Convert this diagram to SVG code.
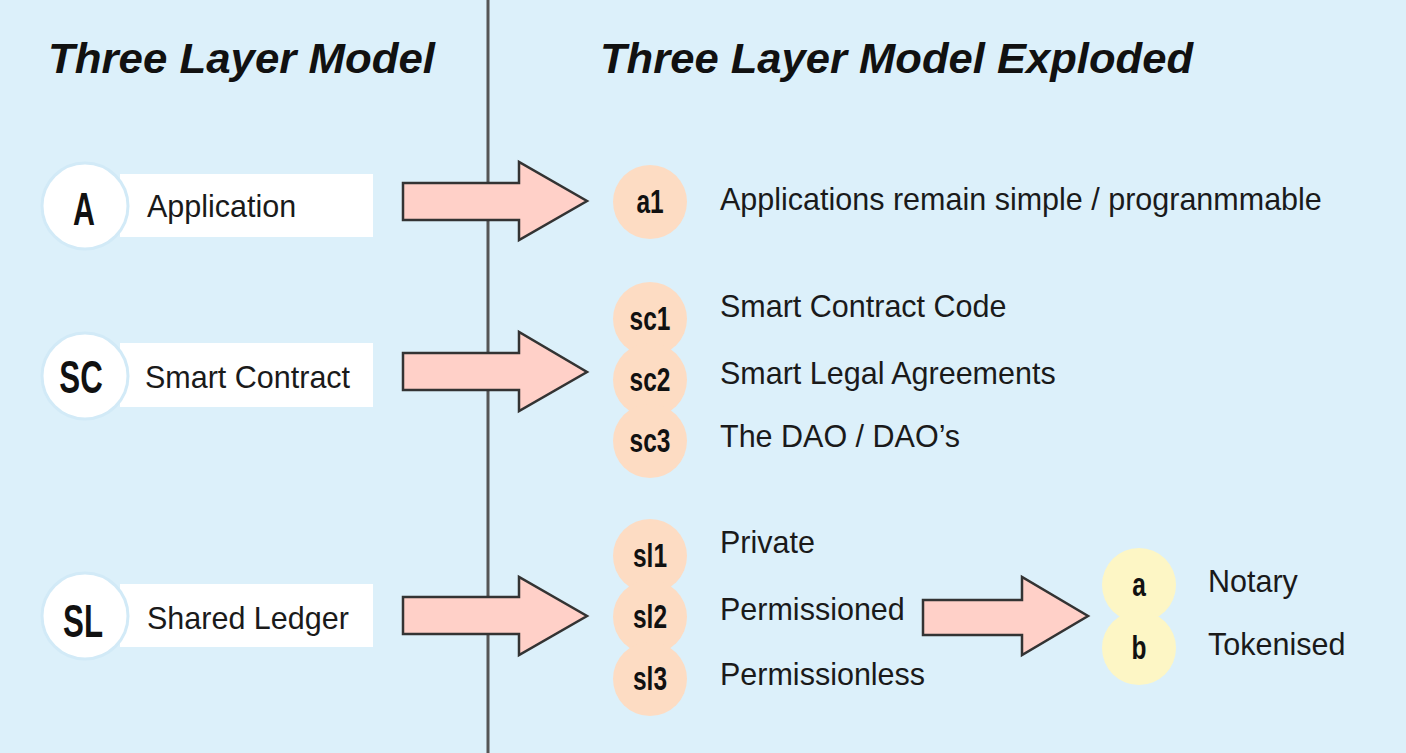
<svg xmlns="http://www.w3.org/2000/svg" width="1406" height="753" viewBox="0 0 1406 753">
<style>
.title{font-family:"Liberation Sans",Arial,sans-serif;font-weight:bold;font-style:italic;font-size:43px;fill:#111}
.txt{font-family:"Liberation Sans",Arial,sans-serif;font-size:30.5px;fill:#1a1a1a}
.big{font-family:"Liberation Sans",Arial,sans-serif;font-weight:bold;font-size:46px;fill:#111;text-anchor:middle}
.lbl{font-family:"Liberation Sans",Arial,sans-serif;font-weight:bold;font-size:34px;fill:#111;text-anchor:middle}
.lc{fill:#fff;stroke:#d2eaf7;stroke-width:3}
.lr{fill:#fff}
.peach{fill:#fddcc3}
.yel{fill:#fdf6c5}
.arrow{fill:#ffd0c8;stroke:#333;stroke-width:2.5;stroke-linejoin:miter}
</style>
<rect x="0" y="0" width="1406" height="753" fill="#dcf0fa"/>
<line x1="488" y1="0" x2="488" y2="753" stroke="#555" stroke-width="3"/>
<text class="title" x="48" y="73" textLength="387" lengthAdjust="spacingAndGlyphs">Three Layer Model</text>
<text class="title" x="600" y="73" textLength="593" lengthAdjust="spacingAndGlyphs">Three Layer Model Exploded</text>

<g id="node-A">
<rect class="lr" x="120" y="174" width="253" height="63"/>
<circle class="lc" cx="85" cy="206" r="43"/>
<text class="big" transform="translate(84,225) scale(0.66,1)">A</text>
<text class="txt" x="147" y="217">Application</text>
</g>
<g id="node-SC">
<rect class="lr" x="120" y="343" width="253" height="64"/>
<circle class="lc" cx="85" cy="376" r="43"/>
<text class="big" transform="translate(81,393) scale(0.68,1)">SC</text>
<text class="txt" x="145" y="388">Smart Contract</text>
</g>
<g id="node-SL">
<rect class="lr" x="120" y="584" width="253" height="63"/>
<circle class="lc" cx="85" cy="616" r="43"/>
<text class="big" transform="translate(83,637) scale(0.68,1)">SL</text>
<text class="txt" x="147" y="629">Shared Ledger</text>
</g>

<g id="node-a1">
<circle class="peach" cx="650" cy="202" r="37"/>
<text class="lbl" transform="translate(650,213) scale(0.72,1)">a1</text>
<text class="txt" x="720" y="210">Applications remain simple / progranmmable</text>
</g>
<g id="node-sc">
<circle class="peach" cx="650" cy="319" r="37"/>
<circle class="peach" cx="650" cy="380" r="37"/>
<circle class="peach" cx="650" cy="441" r="37"/>
<text class="lbl" transform="translate(650,330) scale(0.72,1)">sc1</text>
<text class="lbl" transform="translate(650,391) scale(0.72,1)">sc2</text>
<text class="lbl" transform="translate(650,452) scale(0.72,1)">sc3</text>
<text class="txt" x="720" y="317">Smart Contract Code</text>
<text class="txt" x="720" y="384">Smart Legal Agreements</text>
<text class="txt" x="720" y="447">The DAO / DAO’s</text>
</g>
<g id="node-sl">
<circle class="peach" cx="650" cy="556" r="37"/>
<circle class="peach" cx="650" cy="617" r="37"/>
<circle class="peach" cx="650" cy="679" r="37"/>
<text class="lbl" transform="translate(650,567) scale(0.72,1)">sl1</text>
<text class="lbl" transform="translate(650,628) scale(0.72,1)">sl2</text>
<text class="lbl" transform="translate(650,690) scale(0.72,1)">sl3</text>
<text class="txt" x="720" y="553">Private</text>
<text class="txt" x="720" y="620">Permissioned</text>
<text class="txt" x="720" y="685">Permissionless</text>
</g>
<g id="node-ab">
<circle class="yel" cx="1139" cy="585" r="37"/>
<circle class="yel" cx="1139" cy="648" r="37"/>
<text class="lbl" transform="translate(1139,596) scale(0.72,1)">a</text>
<text class="lbl" transform="translate(1139,659) scale(0.72,1)">b</text>
<text class="txt" x="1208" y="592">Notary</text>
<text class="txt" x="1208" y="655">Tokenised</text>
</g>

<g id="connectors">
<polygon class="arrow" points="403,183 519,183 519,162 587,201 519,240 519,220 403,220"/>
<polygon class="arrow" points="403,353 519,353 519,332 587,372 519,411 519,390 403,390"/>
<polygon class="arrow" points="403,597 519,597 519,577 587,616 519,655 519,634 403,634"/>
<polygon class="arrow" points="923,600 1022,600 1022,577 1088,616 1022,655 1022,635 923,635"/>
</g>
</svg>
